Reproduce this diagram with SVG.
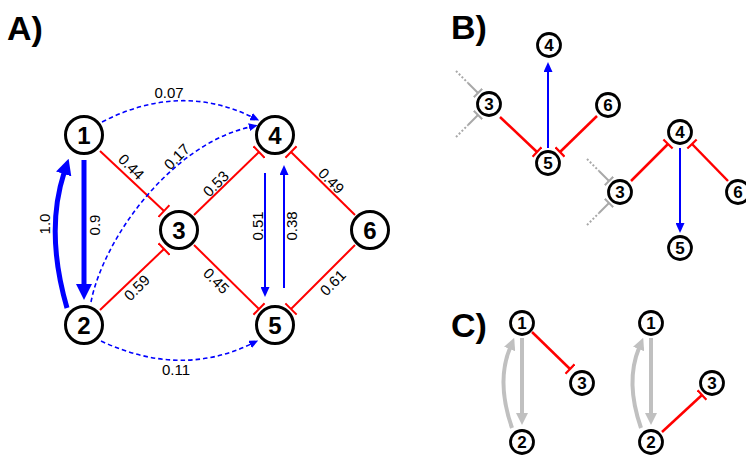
<svg xmlns="http://www.w3.org/2000/svg" width="746" height="455" viewBox="0 0 746 455">
<style>
.node circle{fill:#fff;stroke:#000;stroke-width:3}
.big circle{stroke-width:3}
.node text{font-family:"Liberation Sans",Arial,sans-serif;font-weight:bold;text-anchor:middle;fill:#000}
.big text{font-size:24px}
.small text{font-size:17px}
.small circle{stroke-width:2.8}
.panel{font-family:"Liberation Sans",Arial,sans-serif;font-weight:bold;font-size:34px;fill:#000}
.lbl{font-family:"Liberation Sans",Arial,sans-serif;font-size:15px;fill:#000;text-anchor:middle}
.thick{stroke:#0000ff;stroke-width:5;fill:none}
.thin{stroke:#0000ff;stroke-width:2;fill:none}
.dash{stroke:#0000ff;stroke-width:1.6;fill:none;stroke-dasharray:4.5 3}
.inh{stroke:#ff0000;stroke-width:2;fill:none}
.inhS{stroke:#ff0000;stroke-width:2.5;fill:none}
.gray{stroke:#c0c0c0;stroke-width:4;fill:none}
.gdot{stroke:#a8a8a8;stroke-width:2;fill:none;stroke-dasharray:2 2}
.gsol{stroke:#a8a8a8;stroke-width:2;fill:none}
</style>
<defs>
<marker id="ahThick" viewBox="0 -8 16 16" markerWidth="16" markerHeight="16" refX="1" refY="0" orient="auto" markerUnits="userSpaceOnUse"><path d="M0,-8 L16,0 L0,8z" fill="#0000ff"/></marker>
<marker id="ahThin" viewBox="0 -4.5 10 9" markerWidth="10" markerHeight="9" refX="1" refY="0" orient="auto" markerUnits="userSpaceOnUse"><path d="M0,-4.5 L10,0 L0,4.5z" fill="#0000ff"/></marker>
<marker id="ahDash" viewBox="0 -4 9 8" markerWidth="9" markerHeight="8" refX="1" refY="0" orient="auto" markerUnits="userSpaceOnUse"><path d="M0,-4 L9,0 L0,4z" fill="#0000ff"/></marker>
<marker id="ahGray" viewBox="0 -6 12 12" markerWidth="12" markerHeight="12" refX="1" refY="0" orient="auto" markerUnits="userSpaceOnUse"><path d="M0,-6 L12,0 L0,6z" fill="#c0c0c0"/></marker>
<marker id="tRed" viewBox="-1.5 -8 3 16" markerWidth="3" markerHeight="16" refX="0" refY="0" orient="auto" markerUnits="userSpaceOnUse"><path d="M0,-8 V8" stroke="#ff0000" stroke-width="2"/></marker>
<marker id="tRedS" viewBox="-1.5 -6.5 3 13" markerWidth="3" markerHeight="13" refX="0" refY="0" orient="auto" markerUnits="userSpaceOnUse"><path d="M0,-6.5 V6.5" stroke="#ff0000" stroke-width="2.2"/></marker>
<marker id="tGray" viewBox="-1.5 -6 3 12" markerWidth="3" markerHeight="12" refX="0" refY="0" orient="auto" markerUnits="userSpaceOnUse"><path d="M0,-6 V6" stroke="#a8a8a8" stroke-width="2"/></marker>
</defs>

<text class="panel" x="7" y="40">A)</text>
<text class="panel" x="451" y="39">B)</text>
<text class="panel" x="451" y="337">C)</text>

<g id="connectors">
  <!-- Panel A -->
  <line class="thick" x1="84" y1="160" x2="84" y2="285" marker-end="url(#ahThick)"/>
  <path class="thick" d="M67,308 Q45,232 64,173" marker-end="url(#ahThick)"/>
  <line class="thin" x1="265" y1="173" x2="265" y2="288" marker-end="url(#ahThin)"/>
  <line class="thin" x1="284" y1="288" x2="284" y2="174" marker-end="url(#ahThin)"/>
  <line class="inh" x1="100" y1="151" x2="164" y2="211" marker-end="url(#tRed)"/>
  <line class="inh" x1="194" y1="215" x2="259" y2="152" marker-end="url(#tRed)"/>
  <line class="inh" x1="355" y1="215" x2="291" y2="152" marker-end="url(#tRed)"/>
  <line class="inh" x1="100" y1="310" x2="164" y2="249" marker-end="url(#tRed)"/>
  <line class="inh" x1="194" y1="245" x2="259" y2="309" marker-end="url(#tRed)"/>
  <line class="inh" x1="355" y1="245" x2="291" y2="309" marker-end="url(#tRed)"/>
  <path class="dash" d="M102,122 Q180,82 252,117" marker-end="url(#ahDash)"/>
  <path class="dash" d="M91,302 C103,240 170,145 250,127" marker-end="url(#ahDash)"/>
  <path class="dash" d="M101,341 Q180,378 251,344" marker-end="url(#ahDash)"/>

  <!-- Panel B, left -->
  <line class="thin" x1="548" y1="148" x2="548" y2="71" marker-end="url(#ahThin)"/>
  <line class="inhS" x1="500" y1="117" x2="537" y2="152" marker-end="url(#tRedS)"/>
  <line class="inhS" x1="597" y1="116" x2="560" y2="152" marker-end="url(#tRedS)"/>
  <line class="gdot" x1="456" y1="71" x2="468" y2="83"/>
  <line class="gsol" x1="468" y1="83" x2="478" y2="93" marker-end="url(#tGray)"/>
  <line class="gdot" x1="456" y1="137" x2="468" y2="125"/>
  <line class="gsol" x1="468" y1="125" x2="478" y2="115" marker-end="url(#tGray)"/>

  <!-- Panel B, right -->
  <line class="thin" x1="680" y1="148" x2="680" y2="224" marker-end="url(#ahThin)"/>
  <line class="inhS" x1="631" y1="181" x2="668" y2="144" marker-end="url(#tRedS)"/>
  <line class="inhS" x1="728" y1="181" x2="692" y2="144" marker-end="url(#tRedS)"/>
  <line class="gdot" x1="587" y1="159" x2="599" y2="171"/>
  <line class="gsol" x1="599" y1="171" x2="609" y2="181" marker-end="url(#tGray)"/>
  <line class="gdot" x1="587" y1="225" x2="599" y2="213"/>
  <line class="gsol" x1="599" y1="213" x2="609" y2="203" marker-end="url(#tGray)"/>

  <!-- Panel C, left -->
  <line class="gray" x1="522" y1="338" x2="522" y2="414" marker-end="url(#ahGray)"/>
  <path class="gray" d="M512,428 Q496,382 510,348" marker-end="url(#ahGray)"/>
  <line class="inhS" x1="532" y1="332" x2="570" y2="369" marker-end="url(#tRedS)"/>

  <!-- Panel C, right -->
  <line class="gray" x1="651" y1="338" x2="651" y2="414" marker-end="url(#ahGray)"/>
  <path class="gray" d="M641,428 Q625,382 639,348" marker-end="url(#ahGray)"/>
  <line class="inhS" x1="662" y1="432" x2="702" y2="395" marker-end="url(#tRedS)"/>
</g>

<g id="labels">
  <text class="lbl" x="169" y="98">0.07</text>
  <text class="lbl" x="176" y="375">0.11</text>
  <text class="lbl" transform="translate(131,167) rotate(45)" y="5">0.44</text>
  <text class="lbl" transform="translate(177,157) rotate(-45)" y="5">0.17</text>
  <text class="lbl" transform="translate(216,184) rotate(-45)" y="5">0.53</text>
  <text class="lbl" transform="translate(331,181) rotate(45)" y="5">0.49</text>
  <text class="lbl" transform="translate(137,288) rotate(-45)" y="5">0.59</text>
  <text class="lbl" transform="translate(216,281) rotate(45)" y="5">0.45</text>
  <text class="lbl" transform="translate(333,283) rotate(-45)" y="5">0.61</text>
  <text class="lbl" transform="translate(45,224) rotate(-90)" y="5">1.0</text>
  <text class="lbl" transform="translate(95,225) rotate(-90)" y="5">0.9</text>
  <text class="lbl" transform="translate(258,226) rotate(-90)" y="5">0.51</text>
  <text class="lbl" transform="translate(292,226) rotate(-90)" y="5">0.38</text>
</g>

<g id="A1" class="node big"><circle cx="84" cy="135" r="18.5"/><text x="84" y="143.5">1</text></g>
<g id="A2" class="node big"><circle cx="84" cy="325" r="18.5"/><text x="84" y="333.5">2</text></g>
<g id="A3" class="node big"><circle cx="179" cy="230" r="18.5"/><text x="179" y="238.5">3</text></g>
<g id="A4" class="node big"><circle cx="275" cy="135" r="18.5"/><text x="275" y="143.5">4</text></g>
<g id="A5" class="node big"><circle cx="275" cy="325" r="18.5"/><text x="275" y="333.5">5</text></g>
<g id="A6" class="node big"><circle cx="370" cy="230" r="18.5"/><text x="370" y="238.5">6</text></g>

<g id="B1_4" class="node small"><circle cx="549" cy="45" r="11.5"/><text x="549" y="51">4</text></g>
<g id="B1_3" class="node small"><circle cx="489" cy="104" r="11.5"/><text x="489" y="110">3</text></g>
<g id="B1_6" class="node small"><circle cx="608" cy="105" r="11.5"/><text x="608" y="111">6</text></g>
<g id="B1_5" class="node small"><circle cx="548" cy="163" r="11.5"/><text x="548" y="169">5</text></g>

<g id="B2_4" class="node small"><circle cx="680" cy="132" r="11.5"/><text x="680" y="138">4</text></g>
<g id="B2_3" class="node small"><circle cx="620" cy="192" r="11.5"/><text x="620" y="198">3</text></g>
<g id="B2_6" class="node small"><circle cx="738" cy="192" r="11.5"/><text x="738" y="198">6</text></g>
<g id="B2_5" class="node small"><circle cx="680" cy="248" r="11.5"/><text x="680" y="254">5</text></g>

<g id="C1_1" class="node small"><circle cx="522" cy="323" r="11.5"/><text x="522" y="329">1</text></g>
<g id="C1_3" class="node small"><circle cx="582" cy="383" r="11.5"/><text x="582" y="389">3</text></g>
<g id="C1_2" class="node small"><circle cx="522" cy="442" r="11.5"/><text x="522" y="448">2</text></g>

<g id="C2_1" class="node small"><circle cx="651" cy="323" r="11.5"/><text x="651" y="329">1</text></g>
<g id="C2_3" class="node small"><circle cx="712" cy="383" r="11.5"/><text x="712" y="389">3</text></g>
<g id="C2_2" class="node small"><circle cx="651" cy="442" r="11.5"/><text x="651" y="448">2</text></g>
</svg>
